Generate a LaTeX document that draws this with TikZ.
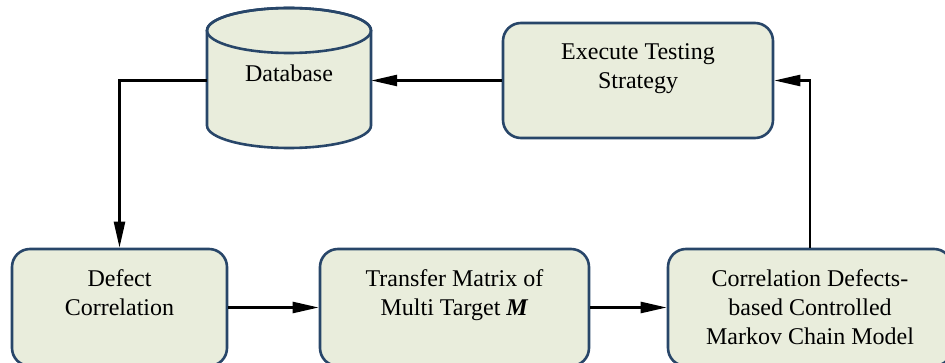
\documentclass[tikz,border=0pt]{standalone}
\usepackage{fontspec}
\setmainfont{Liberation Serif}
\usetikzlibrary{arrows.meta}

\definecolor{boxfill}{RGB}{233,237,220}
\definecolor{boxline}{RGB}{40,70,105}

\tikzset{
  procbox/.style={draw=boxline, fill=boxfill, line width=2.6pt,
    rounded corners=18pt, inner sep=0pt},
  boxtext/.style={anchor=north, inner sep=0pt, align=center,
    font=\fontsize{24pt}{28.8pt}\selectfont},
  conn/.style={draw=black, line width=2.5pt,
    -{Triangle[length=26pt, width=11pt]}},
}

\begin{document}
\begin{tikzpicture}[x=1pt, y=-1pt]
  \useasboundingbox (0,0) rectangle (945,363);
  \clip (0,0) rectangle (945,363);

  % database cylinder
  \node[inner sep=0pt, minimum width=164pt, minimum height=140pt] (db) at (289,78) {};
  \filldraw[draw=boxline, fill=boxfill, line width=2.6pt]
    (207,30.5) -- (207,125.5)
    arc[start angle=180, end angle=360, x radius=82pt, y radius=22.5pt]
    -- (371,30.5)
    arc[start angle=0, end angle=180, x radius=82pt, y radius=22.5pt]
    -- cycle;
  \draw[draw=boxline, line width=2.6pt] (289,30.5) ellipse [x radius=82pt, y radius=22.5pt];
  \node[boxtext] (dbtext) at (289,64.5) {Database};

  % process boxes
  \node[procbox, minimum width=270pt, minimum height=115pt] (exec) at (638,80.5) {};
  \node[procbox, minimum width=215pt, minimum height=117pt] (defect) at (119.5,307.5) {};
  \node[procbox, minimum width=269pt, minimum height=117pt] (transfer) at (454.5,307.5) {};
  \node[procbox, minimum width=284pt, minimum height=117pt] (markov) at (810,307.5) {};

  % box captions
  \node[boxtext] (exectext) at ([yshift=-22pt]exec.north) {Execute Testing\\Strategy};
  \node[boxtext] (defecttext) at ([yshift=-22pt]defect.north) {Defect\\Correlation};
  \node[boxtext] (transfertext) at ([yshift=-22pt]transfer.north)
    {Transfer Matrix of\\Multi Target \textbf{\textit{M}}};
  \node[boxtext] (markovtext) at ([yshift=-22pt]markov.north)
    {Correlation Defects-\\based Controlled\\Markov Chain Model};

  % connectors
  \draw[conn] (exec.west) -- (exec.west -| db.east);
  \draw[conn] (db.west |- exec.west) -| (defect.north);
  \draw[conn] (defect.east) -- (transfer.west);
  \draw[conn] (transfer.east) -- (markov.west);
  \draw[conn] (markov.north) |- (exec.east);
\end{tikzpicture}
\end{document}
